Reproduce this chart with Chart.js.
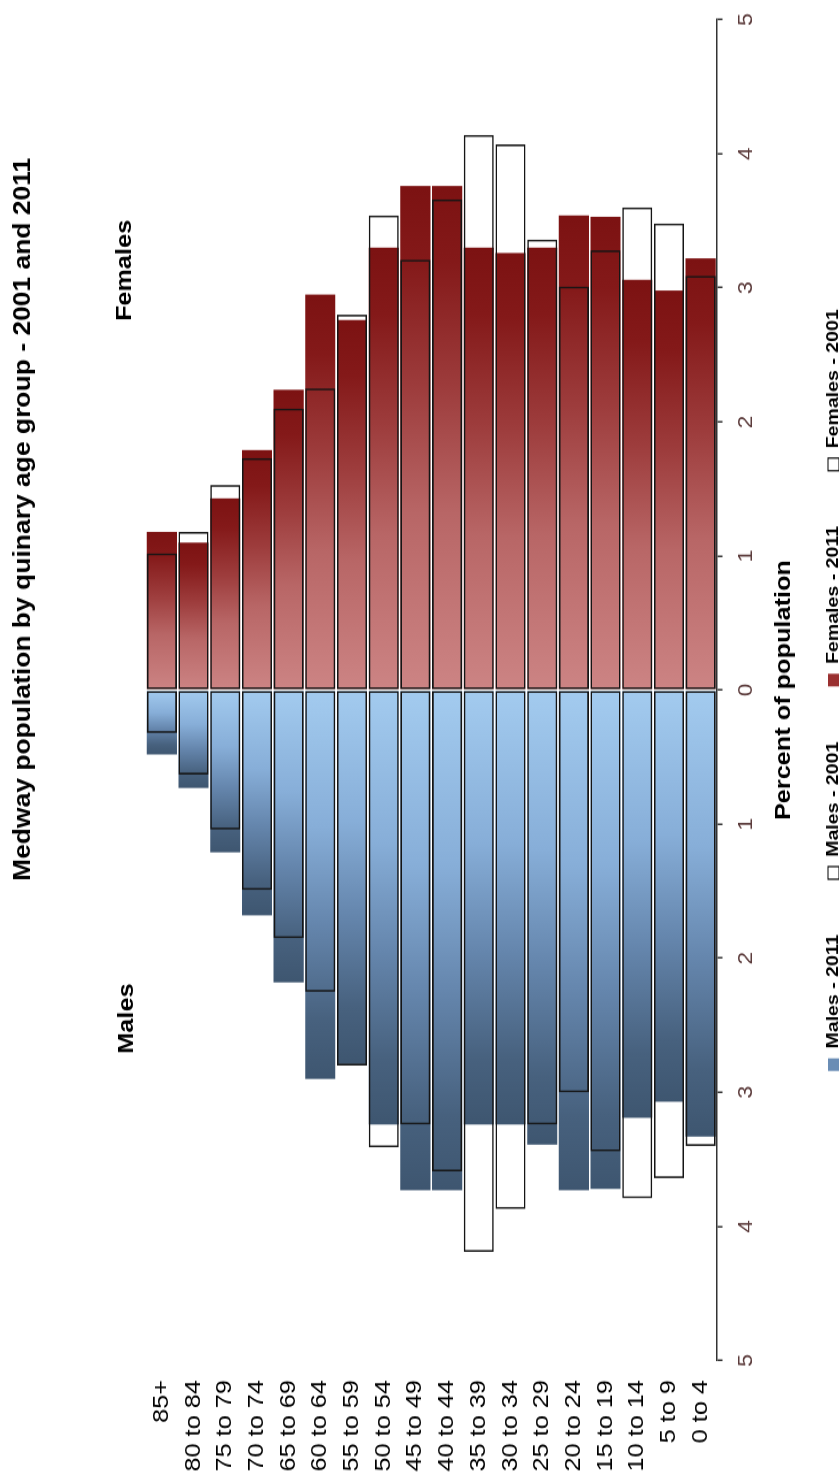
<!DOCTYPE html>
<html>
<head>
<meta charset="utf-8">
<title>Medway population by quinary age group</title>
<script src="https://cdn.jsdelivr.net/npm/chart.js@4.4.1/dist/chart.umd.min.js"></script>
<style>
  html, body { margin: 0; padding: 0; background: #fff; }
  body { width: 839px; height: 1483px; overflow: hidden; position: relative; }
  /* the chart is drawn landscape, then turned a quarter turn like the source figure */
  #frame {
    position: absolute; left: 0; top: 0;
    width: 1290px; height: 852px;
    transform-origin: 0 0;
    transform: translate(0, 1483px) rotate(-90deg) scale(1.15, 1);
  }
</style>
</head>
<body>
<div id="frame"><canvas id="pyramid"></canvas></div>
<script>
// Age groups, oldest at the top
var ageGroups = ['85+', '80 to 84', '75 to 79', '70 to 74', '65 to 69', '60 to 64', '55 to 59',
    '50 to 54', '45 to 49', '40 to 44', '35 to 39', '30 to 34', '25 to 29', '20 to 24',
    '15 to 19', '10 to 14', '5 to 9', '0 to 4'];

// Percent of population
var males2011   = [0.48, 0.73, 1.21, 1.68, 2.18, 2.90, 2.79, 3.24, 3.73, 3.73, 3.24, 3.24, 3.39, 3.73, 3.72, 3.19, 3.07, 3.33];
var males2001   = [0.32, 0.63, 1.04, 1.49, 1.85, 2.25, 2.80, 3.41, 3.24, 3.59, 4.19, 3.87, 3.24, 3.00, 3.44, 3.79, 3.64, 3.40];
var females2011 = [1.18, 1.10, 1.43, 1.79, 2.24, 2.95, 2.76, 3.30, 3.76, 3.76, 3.30, 3.26, 3.30, 3.54, 3.53, 3.06, 2.98, 3.22];
var females2001 = [1.02, 1.18, 1.53, 1.73, 2.10, 2.25, 2.80, 3.54, 3.21, 3.66, 4.14, 4.07, 3.36, 3.01, 3.28, 3.60, 3.48, 3.09];

var chartTitle = 'Medway population by quinary age group - 2001 and 2011';
var sideLabels = ['Males', 'Females'];
var legendLabels = ['Males - 2011', 'Males - 2001', 'Females - 2011', 'Females - 2001'];

var FONT = '"Liberation Sans", Arial, sans-serif';
Chart.defaults.font.family = FONT;

// colour along each bar, from the centre line out to its end
var maleStops = [[0, '#a3cbef'], [0.35, '#87aed8'], [0.6, '#6586ad'], [0.85, '#47617e'], [1, '#3e5670']];
var femaleStops = [[0, '#cc8484'], [0.35, '#b86666'], [0.6, '#9d3c3c'], [0.85, '#841919'], [1, '#7c1212']];

function barGradient(c, stops) {
    var chart = c.chart;
    if (!chart.chartArea || typeof c.raw !== 'number') return stops[2][1];
    var x = chart.scales.x;
    var g = chart.ctx.createLinearGradient(x.getPixelForValue(0), 0, x.getPixelForValue(c.raw), 0);
    stops.forEach(function(s) { g.addColorStop(s[0], s[1]); });
    return g;
}

function negate(arr) {
    return arr.map(function(v) { return -v; });
}

// title and the "Males" / "Females" headings
var headings = {
    id: 'headings',
    afterDraw: function(chart) {
        var ctx = chart.ctx;
        var x = chart.scales.x;
        ctx.save();
        ctx.fillStyle = '#000';
        ctx.textAlign = 'center';
        ctx.textBaseline = 'middle';
        ctx.font = 'bold 23px ' + FONT;
        ctx.fillText(chartTitle, 838, 24);
        ctx.font = 'bold 22px ' + FONT;
        ctx.fillText(sideLabels[0], x.getPixelForValue(-2.45), 127);
        ctx.fillText(sideLabels[1], x.getPixelForValue(3.13), 125);
        ctx.restore();
    }
};

var outline = '#151515';

var ctx = document.getElementById('pyramid').getContext('2d');
var pyramid = new Chart(ctx, {
    type: 'bar',
    data: {
        labels: ageGroups,
        datasets: [{
            label: legendLabels[0],
            data: negate(males2011),
            backgroundColor: function(c) { return barGradient(c, maleStops); },
            borderWidth: 0,
            order: 1
        }, {
            label: legendLabels[1],
            data: negate(males2001),
            backgroundColor: 'rgba(255,255,255,0)',
            borderColor: outline,
            borderWidth: 1.6,
            borderSkipped: false,
            order: 0
        }, {
            label: legendLabels[2],
            data: females2011,
            backgroundColor: function(c) { return barGradient(c, femaleStops); },
            borderWidth: 0,
            order: 1
        }, {
            label: legendLabels[3],
            data: females2001,
            backgroundColor: 'rgba(255,255,255,0)',
            borderColor: outline,
            borderWidth: 1.6,
            borderSkipped: false,
            order: 0
        }]
    },
    options: {
        indexAxis: 'y',
        responsive: true,
        maintainAspectRatio: false,
        animation: false,
        events: [],
        layout: { padding: { left: 0, right: 8.7, top: 146, bottom: 0 } },
        datasets: {
            bar: { grouped: false, barPercentage: 0.95, categoryPercentage: 1 }
        },
        scales: {
            x: {
                type: 'linear',
                min: -5,
                max: 5,
                ticks: {
                    stepSize: 1,
                    padding: 12,
                    color: '#5c3c3c',
                    font: { size: 20 },
                    callback: function(v) { return Math.abs(v); }
                },
                grid: { display: true, drawOnChartArea: false, drawTicks: true, tickLength: 6, color: '#333', lineWidth: 1.5 },
                border: { display: true, color: '#333', width: 1.5 },
                title: {
                    display: true,
                    text: 'Percent of population',
                    color: '#000',
                    font: { size: 22, weight: 'bold' },
                    padding: { top: 0, bottom: -19.7 }
                },
                afterFit: function(scale) { scale.height = 60.5; }
            },
            y: {
                type: 'category',
                ticks: { color: '#000', font: { size: 22 }, padding: 17 },
                grid: { display: false, drawTicks: false },
                border: { display: false },
                afterFit: function(scale) { scale.width = 106.5; }
            }
        },
        plugins: {
            title: { display: false },
            legend: {
                position: 'bottom',
                fullSize: false,
                labels: {
                    boxWidth: 11,
                    boxHeight: 11,
                    padding: 48,
                    color: '#000',
                    font: { size: 17, weight: 'bold' },
                    generateLabels: function(chart) {
                        var fills = ['#6a8db5', '#fff', '#9a3030', '#fff'];
                        return legendLabels.map(function(text, i) {
                            var hollow = (i % 2 === 1);
                            return {
                                text: text,
                                fillStyle: fills[i],
                                strokeStyle: hollow ? '#000' : fills[i],
                                lineWidth: hollow ? 1.2 : 0,
                                fontColor: '#000',
                                hidden: false,
                                datasetIndex: i
                            };
                        });
                    }
                }
            },
            tooltip: { enabled: false }
        }
    },
    plugins: [headings]
});
</script>
</body>
</html>
